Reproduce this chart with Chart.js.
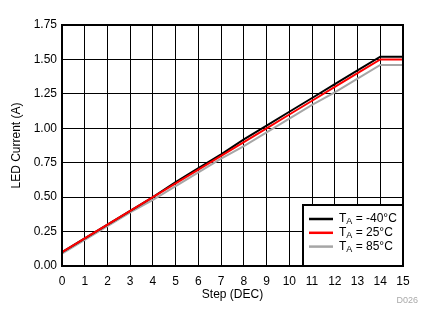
<!DOCTYPE html>
<html>
<head>
<meta charset="utf-8">
<script src="https://cdn.jsdelivr.net/npm/chart.js@4.4.1/dist/chart.umd.min.js"></script>
<style>
  html, body { margin: 0; padding: 0; background: #fff; }
  #wrap { position: relative; width: 435px; height: 327px; }
</style>
</head>
<body>
<div id="wrap"><canvas id="ledChart" width="435" height="327"></canvas></div>
<script>
  const steps = [0, 1, 2, 3, 4, 5, 6, 7, 8, 9, 10, 11, 12, 13, 14, 15];
  const currentM40 = [0.10, 0.20, 0.30, 0.40, 0.50, 0.61, 0.71, 0.81, 0.92, 1.02, 1.12, 1.22, 1.32, 1.42, 1.52, 1.52];
  const current25 = [0.10, 0.20, 0.30, 0.40, 0.50, 0.60, 0.70, 0.80, 0.90, 1.00, 1.10, 1.20, 1.30, 1.40, 1.50, 1.50];
  const current85 = [0.09, 0.19, 0.29, 0.39, 0.48, 0.58, 0.68, 0.78, 0.87, 0.97, 1.07, 1.17, 1.26, 1.36, 1.46, 1.46];
  const seriesTemps = ['-40°C', '25°C', '85°C'];
  const yTicks = [0, 0.25, 0.5, 0.75, 1, 1.25, 1.5, 1.75];

  const fontFamily = '"Liberation Sans", Arial, sans-serif';

  // frame, legend box and figure id drawn on top of the plot
  const decor = {
    id: 'decor',
    afterDatasetsDraw(chart) {
      const { ctx, chartArea: a } = chart;
      ctx.save();
      ctx.strokeStyle = '#000';
      ctx.lineWidth = 2;
      ctx.strokeRect(a.left, a.top, a.right - a.left, a.bottom - a.top);

      // legend
      const bx = 303, by = 205, bw = a.right - 303, bh = a.bottom - 205;
      ctx.fillStyle = '#fff';
      ctx.fillRect(bx, by, bw, bh);
      ctx.strokeRect(bx, by, bw, bh);
      chart.data.datasets.forEach((ds, i) => {
        const y = 219 + i * 13.8;
        ctx.strokeStyle = ds.borderColor;
        ctx.lineWidth = 2.5;
        ctx.beginPath();
        ctx.moveTo(309, y);
        ctx.lineTo(333, y);
        ctx.stroke();
        ctx.fillStyle = '#000';
        ctx.textBaseline = 'middle';
        ctx.textAlign = 'left';
        ctx.font = '12px ' + fontFamily;
        ctx.fillText('T', 339, y);
        const tw = ctx.measureText('T').width;
        ctx.font = '9px ' + fontFamily;
        ctx.fillText('A', 339 + tw, y + 3);
        const aw = ctx.measureText('A').width;
        ctx.font = '12px ' + fontFamily;
        ctx.fillText(' = ' + ds.temp, 339 + tw + aw, y);
      });

      ctx.fillStyle = '#aaaaaa';
      ctx.font = '9px ' + fontFamily;
      ctx.textAlign = 'right';
      ctx.fillText('D026', 418, 301);
      ctx.restore();
    }
  };

  new Chart(document.getElementById('ledChart').getContext('2d'), {
    type: 'line',
    data: {
      labels: steps,
      datasets: [
        { label: 'TA = ' + seriesTemps[0], temp: seriesTemps[0], data: currentM40, borderColor: '#000000', order: 1 },
        { label: 'TA = ' + seriesTemps[1], temp: seriesTemps[1], data: current25, borderColor: '#ff0000', order: 0 },
        { label: 'TA = ' + seriesTemps[2], temp: seriesTemps[2], data: current85, borderColor: '#a6a6a6', order: 2 }
      ].map(d => Object.assign(d, { borderWidth: 2, pointRadius: 0, tension: 0, fill: false }))
    },
    options: {
      responsive: false,
      animation: false,
      layout: { padding: { top: 25, right: 32, bottom: 0, left: 0 } },
      plugins: { legend: { display: false }, tooltip: { enabled: false } },
      scales: {
        x: {
          type: 'linear',
          min: 0,
          max: 15,
          afterFit: s => { s.height = 61; },
          grid: { color: '#000', lineWidth: 1, drawTicks: false },
          border: { display: false },
          ticks: { stepSize: 1, padding: 8, color: '#000', font: { family: fontFamily, size: 12 } },
          title: { display: true, text: 'Step (DEC)', color: '#000', padding: { top: 0, bottom: 25 }, font: { family: fontFamily, size: 12 } }
        },
        y: {
          min: 0,
          max: 1.75,
          afterFit: s => { s.width = 62; },
          afterBuildTicks: s => { s.ticks = yTicks.map(v => ({ value: v })); },
          grid: { color: '#000', lineWidth: 1, drawTicks: false },
          border: { display: false },
          ticks: { padding: 5, color: '#000', font: { family: fontFamily, size: 12 }, callback: v => Number(v).toFixed(2) },
          title: { display: true, text: 'LED Current (A)', color: '#000', padding: { top: 9, bottom: 0 }, font: { family: fontFamily, size: 12 } }
        }
      }
    },
    plugins: [decor]
  });
</script>
</body>
</html>
